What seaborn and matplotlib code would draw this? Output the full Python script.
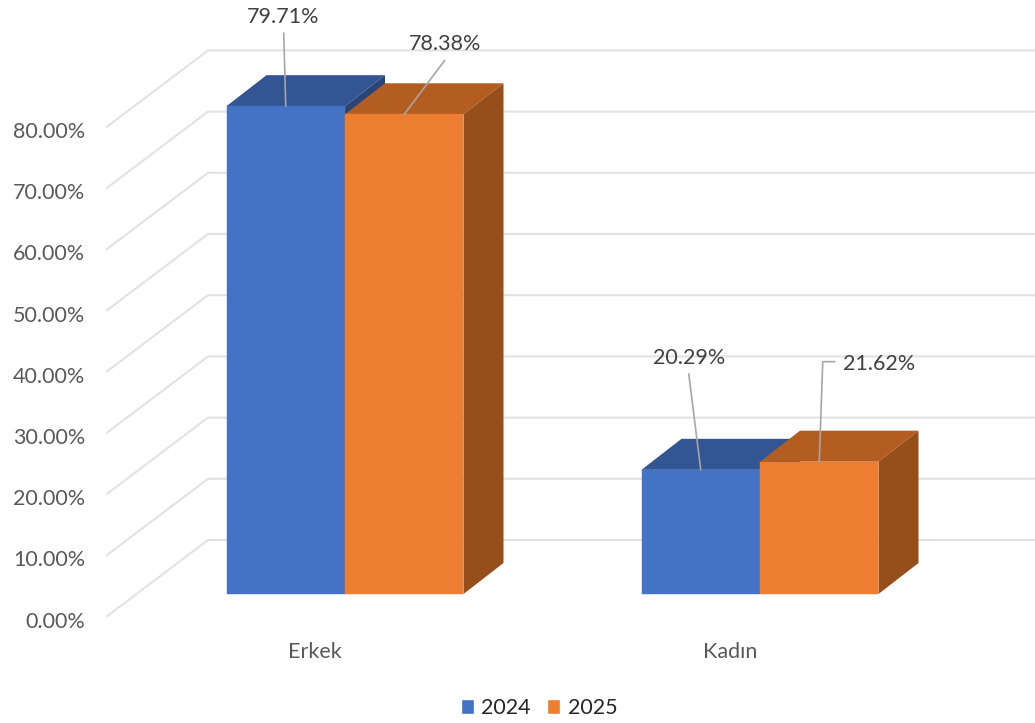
import pandas as pd
import matplotlib.pyplot as plt
import matplotlib.transforms as mtrans
import seaborn as sns

# veriler
categories = ['Erkek', 'Kadın']
years = ['2024', '2025']
values_2024 = [79.71, 20.29]
values_2025 = [78.38, 21.62]
y_ticks = [0, 10, 20, 30, 40, 50, 60, 70, 80]
y_tick_labels = ['0.00%', '10.00%', '20.00%', '30.00%', '40.00%', '50.00%', '60.00%', '70.00%', '80.00%']
palette = {'2024': '#4472C4', '2025': '#ED7D31'}
top_colors = {'2024': '#335593', '2025': '#B45D20'}
side_colors = {'2024': '#294578', '2025': '#964E1B'}

# piksel -> veri olcegi (kategori basina 415 px, %1 basina 6.12 px)
PX_X = 1 / 415
PX_Y = 1 / 6.12

# etiket ofsetleri (piksel): yazi merkezi, cizgi noktalari
text_offsets = [[(-3, 89), (-12, 112)], [(40.5, 70), (59.5, 98)]]
line_offsets = [[[(-2, 73)], [(-12, 96)]], [[(40.5, 54)], [(15.5, 100), (3.5, 100)]]]

df = pd.DataFrame({
    'kategori': categories * 2,
    'oran': values_2024 + values_2025,
    'yil': [years[0]] * 2 + [years[1]] * 2,
})

sns.set_theme(style='white')
plt.rcParams['font.family'] = ['Lato', 'DejaVu Sans']

fig = plt.figure(figsize=(10.35, 7.23), dpi=100)
ax = fig.add_axes([106 / 1035, (723 - 617) / 723, (1035 - 106) / 1035, 617 / 723])

sns.barplot(data=df, x='kategori', y='oran', hue='yil', palette=palette, saturation=1,
            width=237 / 415, gap=0, ax=ax)

ax.set_xlim((106 - 315) * PX_X, (1035 - 315) * PX_X)
ax.set_ylim(0, 617 * PX_Y)

# arka duvar ve izgara cizgileri
wall_dx, wall_dy = 102 * PX_X, 77 * PX_Y
x0, x1 = ax.get_xlim()
for t in y_ticks:
    ax.plot([x0, x0 + wall_dx, x1], [t, t + wall_dy, t + wall_dy],
            color='#E2E2E2', lw=1.5, zorder=1, solid_capstyle='butt')

# 3B gorunum: on yuz, ust yuz, yan yuz
front_dx, front_dy = 30 * PX_X, 23 * PX_Y
depth_dx, depth_dy = 40 * PX_X, 31 * PX_Y
for i, (year, bars) in enumerate(zip(years, ax.containers)):
    z = 2 + i
    for j, bar in enumerate(bars):
        bar.set_x(bar.get_x() + front_dx)
        bar.set_y(front_dy)
        bar.set_zorder(z + 0.2)
        bar.set_edgecolor(palette[year])
        bar.set_linewidth(0.3)
        left, w = bar.get_x(), bar.get_width()
        top = front_dy + bar.get_height()
        right = left + w
        ax.fill([left, right, right + depth_dx, left + depth_dx],
                [top, top, top + depth_dy, top + depth_dy],
                color=top_colors[year], lw=0, zorder=z)
        ax.fill([right, right + depth_dx, right + depth_dx, right],
                [front_dy, front_dy + depth_dy, top + depth_dy, top],
                color=side_colors[year], lw=0, zorder=z)

        # deger etiketi ve cizgisi
        cx = left + w / 2
        tx, ty = text_offsets[i][j]
        ax.text(cx + tx * PX_X, top + ty * PX_Y, f'{bar.get_height():.2f}%',
                ha='center', va='center', fontsize=15.5, color='#404040', zorder=6)
        pts = line_offsets[i][j]
        ax.plot([cx + p[0] * PX_X for p in pts] + [cx], [top + p[1] * PX_Y for p in pts] + [top],
                color='#A6A6A6', lw=1.2, zorder=5)

ax.set_xticks(range(len(categories)))
ax.set_xticklabels(categories)
ax.set_yticks(y_ticks)
ax.set_yticklabels(y_tick_labels)
ax.set_xlabel('')
ax.set_ylabel('')
ax.tick_params(axis='y', length=0, pad=15, labelsize=15.5, labelcolor='#595959')
ax.tick_params(axis='x', length=0, pad=18, labelsize=15.5, labelcolor='#595959')
sns.despine(ax=ax, left=True, bottom=True)
ax.patch.set_alpha(0)

# y etiketleri referansta biraz daha asagida
shift = mtrans.ScaledTranslation(0, -2.5 / 100, fig.dpi_scale_trans)
for lab in ax.get_yticklabels():
    lab.set_transform(lab.get_transform() + shift)

sns.move_legend(ax, 'center', bbox_to_anchor=(539 / 1035, (723 - 708) / 723),
                bbox_transform=fig.transFigure, ncol=2, title=None, frameon=False,
                fontsize=15.5, handlelength=0.6, handleheight=0.7,
                handletextpad=0.35, columnspacing=0.75, borderpad=0, borderaxespad=0)

fig.savefig('out.png', dpi=100)
